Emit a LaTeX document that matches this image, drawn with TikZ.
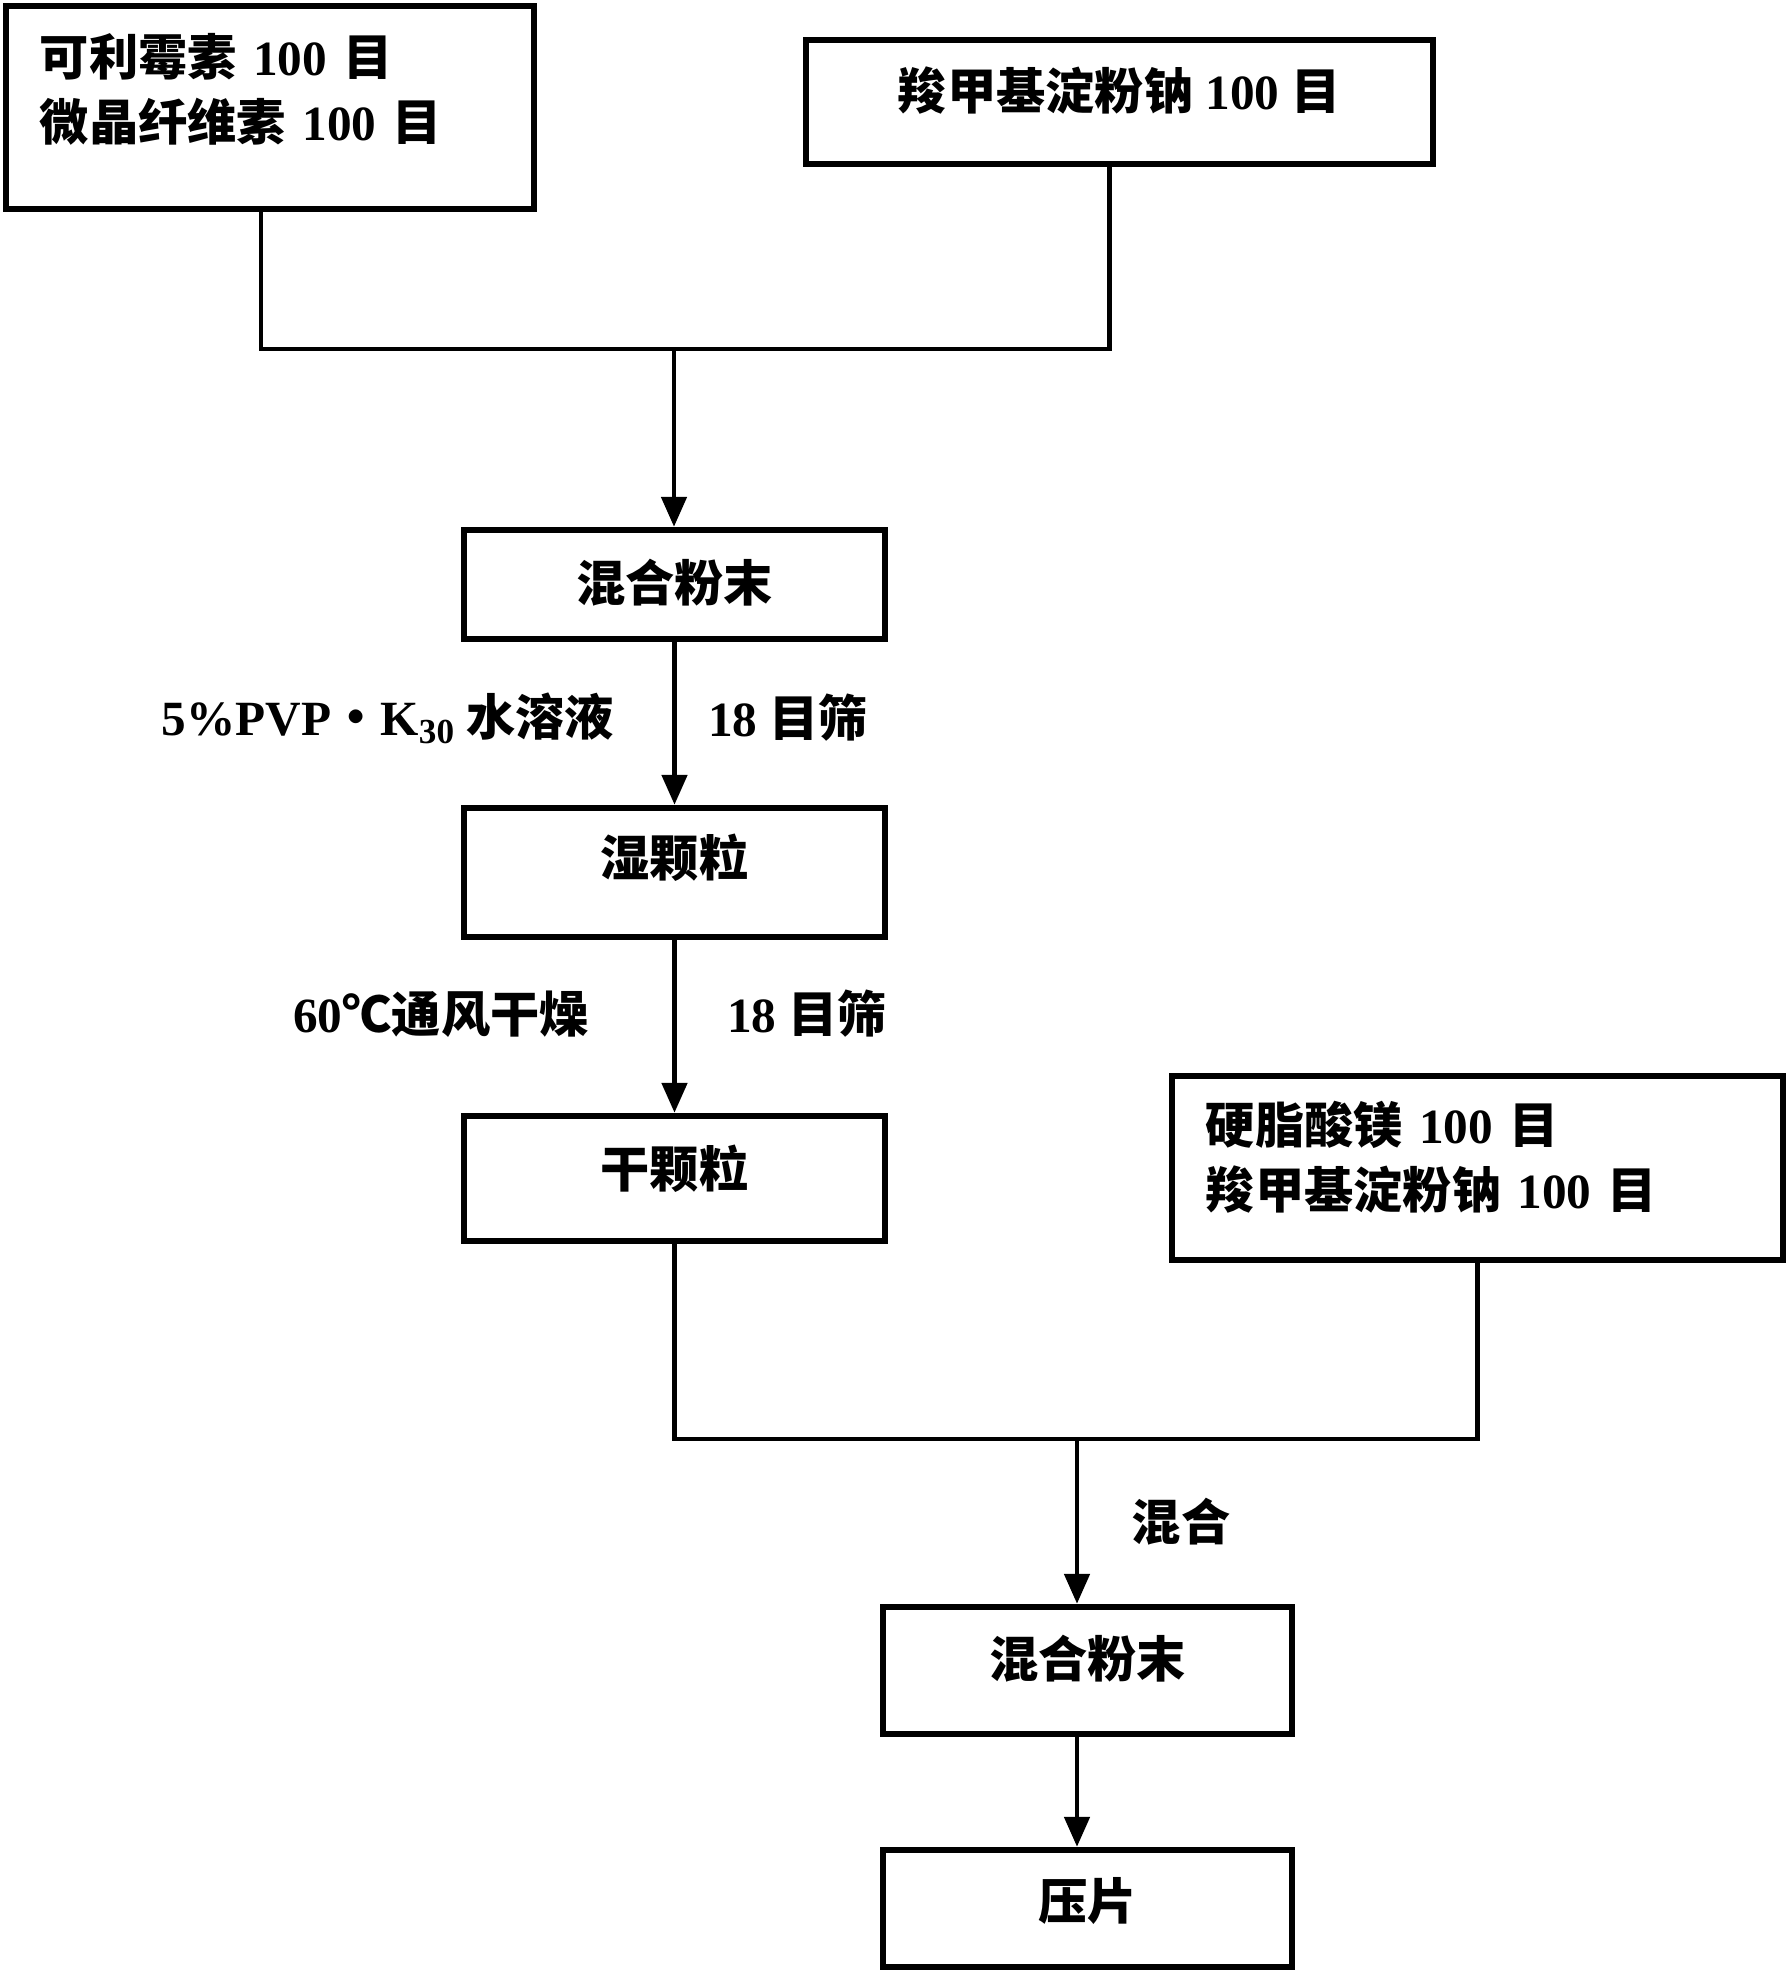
\documentclass[tikz,border=0pt]{standalone}
\usepackage{fontspec}
\setmainfont{Liberation Serif}
\newfontfamily\zh{Noto Sans CJK SC}
\usepackage{tikz}
\usetikzlibrary{arrows.meta,positioning}

\begin{document}
\begin{tikzpicture}[
    x=0.01cm, y=-0.01cm,
    font=\fontsize{14}{18.5}\selectfont\bfseries,
    stage/.style={draw, line width=1.8pt, minimum width=4.21cm, text height=12pt, text depth=7pt},
    listbox/.style={draw, line width=1.8pt, align=left, inner xsep=0.34cm},
    link/.style={line width=1.4pt},
    flow/.style={line width=1.4pt, -{Triangle[width=0.25cm,length=0.3cm]}},
    note/.style={inner sep=0pt}
]
    \useasboundingbox (0,0) rectangle (1788,1976);

    % Raw materials
    \node[listbox, minimum width=5.28cm, minimum height=2.03cm, text width=4.6cm, text depth=30pt] (raw1) at (270,107.5)
        {{\zh 可利霉素} 100 {\zh 目}\\{\zh 微晶纤维素} 100 {\zh 目}};
    \node[stage, minimum width=6.27cm, minimum height=1.24cm, text depth=7.6pt] (raw2) at (1119.5,102)
        {{\zh 羧甲基淀粉钠} 100 {\zh 目}};

    % Granulation line
    \node[stage, minimum height=1.09cm, text depth=2.6pt] (mix1) at (674.5,584.5) {\zh 混合粉末};
    \node[stage, minimum height=1.29cm, text depth=10pt] (wet) at (674.5,872.5) {\zh 湿颗粒};
    \node[stage, minimum height=1.25cm, text depth=7pt] (dry) at (674.5,1178.5) {\zh 干颗粒};

    % Lubricant and disintegrant
    \node[listbox, minimum width=6.11cm, minimum height=1.84cm, text width=5.43cm, text depth=25.8pt] (lube) at (1477.5,1168)
        {{\zh 硬脂酸镁} 100 {\zh 目}\\{\zh 羧甲基淀粉钠} 100 {\zh 目}};

    % Final blend and tableting
    \node[stage, minimum width=4.09cm, minimum height=1.27cm, text depth=8.2pt] (mix2) at (1087.5,1670.5) {\zh 混合粉末};
    \node[stage, minimum width=4.09cm, minimum height=1.17cm, text depth=6pt] (press) at (1087.5,1908.5) {\zh 压片};

    % Joins
    \coordinate (tee1) at (674,349);
    \coordinate (tee2) at (1077,1439);

    \draw[link] ([xshift=-0.09cm]raw1.south) |- (tee1) -| ([xshift=-0.1cm]raw2.south);
    \draw[flow] (tee1) -- (tee1 |- mix1.north);
    \draw[flow] (mix1) -- (wet);
    \draw[flow] (wet) -- (dry);
    \draw[link] (dry.south) |- (tee2) -| (lube.south);
    \draw[flow] (tee2) -- (tee2 |- mix2.north);
    \draw[flow] (mix2.south -| tee2) -- (press.north -| tee2);

    % Step notes
    \node[note] (binder) at (388,718) {5\%PVP{\zh ・}K\raisebox{-0.35ex}{\fontsize{10}{10}\selectfont 30} {\zh 水溶液}};
    \node[note] (sieve1) at (788,718) {18 {\zh 目筛}};
    \node[note] (dryer) at (441,1014) {60{\zh ℃通风干燥}};
    \node[note] (sieve2) at (807,1014) {18 {\zh 目筛}};
    \node[note] (blend) at (1181,1522) {\zh 混合};
\end{tikzpicture}
\end{document}
